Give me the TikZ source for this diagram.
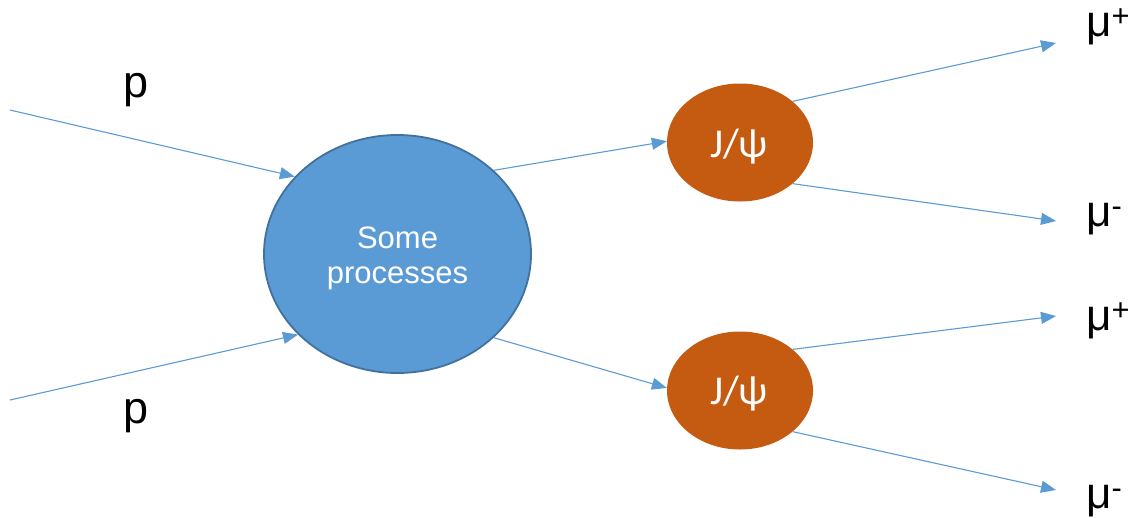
\documentclass[tikz,border=0pt]{standalone}
\usepackage{fontspec}
\setmainfont{Liberation Sans}
\newfontfamily\calfont{Carlito}
\usetikzlibrary{arrows.meta,shapes.geometric}
\definecolor{cblue}{HTML}{5B9BD5}
\definecolor{cblueedge}{HTML}{41719C}
\definecolor{corange}{HTML}{C55A11}
\tikzset{
  conn/.style={draw=cblue, line width=1.1pt, -{Triangle[length=15pt,width=12pt]}},
  bigblob/.style={ellipse, fill=cblue, draw=cblueedge, line width=1.8pt, minimum width=267pt, minimum height=238pt, inner sep=0pt},
  meson/.style={ellipse, fill=corange, minimum width=146pt, minimum height=118pt, inner sep=0pt},
  intext/.style={text=white, inner sep=0pt, anchor=base},
  plabel/.style={font=\fontsize{45}{50}\selectfont, inner sep=0pt, anchor=base},
  mulabel/.style={font=\fontsize{44}{50}\selectfont, inner sep=0pt, anchor=base west}
}
\begin{document}
\begin{tikzpicture}[x=1pt,y=-1pt]
\useasboundingbox (0,0) rectangle (1129,517);
\node[bigblob] (big) at (397.5,254) {};
\node[meson] (j1) at (740,142.5) {};
\node[meson] (j2) at (740,390.5) {};
\node[intext, font=\fontsize{31}{35}\selectfont] (t1) at (397.5,248) {Some};
\node[intext, font=\fontsize{31}{35}\selectfont] (t2) at (397.5,283) {processes};
\node[intext, font=\calfont\fontsize{41}{45}\selectfont] (jt1) at (739,157) {J/ψ};
\node[intext, font=\calfont\fontsize{41}{45}\selectfont] (jt2) at (739,404) {J/ψ};
\coordinate (pin1) at (10,110);
\coordinate (pin2) at (10,400);
\coordinate (m1) at (1056,43);
\coordinate (m2) at (1056,221);
\coordinate (m3) at (1056,316);
\coordinate (m4) at (1056,490);
\node[plabel] (p1) at (136,97) {p};
\node[plabel] (p2) at (136,423) {p};
\node[mulabel] (mu1) at (1086,36) {μ\textsuperscript{+}};
\node[mulabel] (mu2) at (1086,226) {μ\textsuperscript{-}};
\node[mulabel] (mu3) at (1086,330) {μ\textsuperscript{+}};
\node[mulabel] (mu4) at (1086,508) {μ\textsuperscript{-}};
\draw[conn] (pin1) -- (big.143);
\draw[conn] (pin2) -- (big.219);
\draw[conn] (big.41.3) -- (j1.179);
\draw[conn] (big.-41.7) -- (j2.178);
\draw[conn] (j1.38) -- (m1);
\draw[conn] (j1.-38.6) -- (m2);
\draw[conn] (j2.38.6) -- (m3);
\draw[conn] (j2.-38.6) -- (m4);
\end{tikzpicture}
\end{document}
